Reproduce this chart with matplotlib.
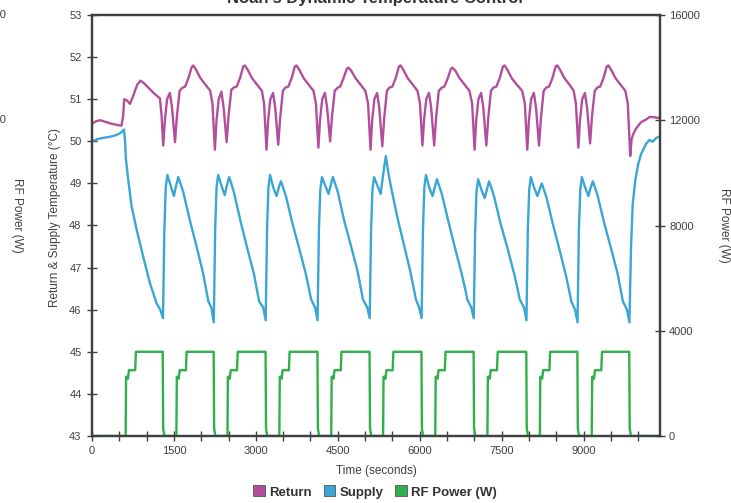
import matplotlib
matplotlib.use("Agg")
import matplotlib.pyplot as plt
from matplotlib.patches import Patch
from matplotlib.ticker import FixedLocator, FuncFormatter

plt.rcParams['font.family'] = ['Liberation Sans', 'DejaVu Sans']

# ---- data (time in seconds) ----
supply_t = [0, 100, 200, 300, 400, 500, 560, 585, 604, 622, 664, 726, 818, 938, 1061, 1183, 1250, 1300,
            1325, 1350, 1380, 1440, 1500, 1540, 1580, 1620, 1670, 1790, 1915, 2035, 2100, 2130, 2185, 2230,
            2255, 2280, 2310, 2370, 2430, 2470, 2510, 2550, 2600, 2720, 2845, 2965, 3030, 3060, 3135, 3180,
            3205, 3230, 3260, 3320, 3380, 3420, 3460, 3500, 3550, 3670, 3795, 3915, 3980, 4010, 4085, 4130,
            4155, 4180, 4210, 4270, 4330, 4370, 4410, 4450, 4500, 4620, 4745, 4865, 4930, 4960, 5040, 5085,
            5110, 5135, 5165, 5225, 5285, 5330, 5380, 5420, 5470, 5590, 5710, 5830, 5900, 5930, 5990, 6035,
            6060, 6085, 6115, 6175, 6235, 6275, 6315, 6355, 6405, 6525, 6650, 6770, 6840, 6870, 6945, 6990,
            7015, 7040, 7070, 7130, 7190, 7230, 7270, 7310, 7360, 7480, 7610, 7730, 7800, 7830, 7910, 7955,
            7980, 8005, 8035, 8095, 8155, 8195, 8235, 8275, 8325, 8445, 8565, 8680, 8745, 8775, 8845, 8890,
            8915, 8940, 8970, 9030, 9090, 9130, 9170, 9210, 9260, 9380, 9505, 9625, 9690, 9720, 9795, 9840,
            9870, 9900, 9950, 10000, 10054, 10150, 10206, 10267, 10330, 10400]
supply_c = [50.0, 50.05, 50.08, 50.1, 50.13, 50.18, 50.24, 50.28, 50.03, 49.56, 49.08, 48.45, 47.9, 47.26, 46.63, 46.15, 46.0, 45.8,
            47.9, 48.9, 49.2, 48.95, 48.7, 48.95, 49.15, 49.0, 48.8, 48.13, 47.5, 46.86, 46.4, 46.2, 46.05, 45.7,
            47.9, 48.9, 49.2, 48.95, 48.72, 48.95, 49.15, 49.0, 48.78, 48.1, 47.45, 46.85, 46.4, 46.2, 46.05, 45.75,
            47.9, 48.9, 49.2, 48.9, 48.7, 48.9, 49.05, 48.9, 48.7, 48.05, 47.45, 46.85, 46.45, 46.25, 46.05, 45.75,
            47.9, 48.85, 49.15, 48.95, 48.75, 48.95, 49.15, 49.0, 48.8, 48.1, 47.5, 46.9, 46.45, 46.25, 46.05, 45.8,
            47.9, 48.85, 49.15, 48.95, 48.75, 49.2, 49.65, 49.3, 48.95, 48.2, 47.55, 46.9, 46.45, 46.25, 46.05, 45.8,
            47.9, 48.9, 49.2, 48.9, 48.7, 48.9, 49.1, 48.95, 48.75, 48.1, 47.45, 46.85, 46.45, 46.25, 46.05, 45.8,
            47.85, 48.8, 49.1, 48.85, 48.65, 48.85, 49.05, 48.9, 48.7, 48.05, 47.45, 46.85, 46.45, 46.25, 46.05, 45.75,
            47.9, 48.85, 49.15, 48.9, 48.7, 48.85, 49.0, 48.85, 48.65, 48.0, 47.4, 46.8, 46.4, 46.2, 46.0, 45.7,
            47.9, 48.85, 49.15, 48.9, 48.7, 48.9, 49.05, 48.9, 48.7, 48.05, 47.45, 46.85, 46.4, 46.2, 46.0, 45.7,
            47.5, 48.5, 49.1, 49.45, 49.7, 49.95, 50.03, 49.99, 50.08, 50.12]

return_t = [0, 80, 150, 250, 350, 450, 540, 570, 590, 640, 695, 760, 830, 890, 950, 1050, 1150, 1244, 1275, 1304,
            1335, 1375, 1425, 1465, 1520, 1555, 1605, 1655, 1705, 1765, 1825, 1855, 1905, 1985, 2075, 2165, 2205, 2250,
            2280, 2320, 2370, 2410, 2465, 2500, 2550, 2600, 2650, 2710, 2770, 2800, 2850, 2930, 3020, 3110, 3150, 3195,
            3225, 3265, 3315, 3355, 3410, 3445, 3495, 3545, 3595, 3655, 3715, 3745, 3795, 3875, 3965, 4055, 4100, 4145,
            4175, 4215, 4265, 4305, 4360, 4395, 4445, 4495, 4545, 4605, 4665, 4695, 4745, 4825, 4915, 5005, 5055, 5100,
            5130, 5170, 5220, 5260, 5315, 5350, 5400, 5450, 5500, 5560, 5620, 5650, 5700, 5780, 5870, 5960, 6005, 6050,
            6080, 6120, 6170, 6210, 6265, 6300, 6350, 6400, 6450, 6510, 6570, 6600, 6650, 6730, 6820, 6910, 6960, 7005,
            7035, 7075, 7125, 7165, 7220, 7255, 7305, 7355, 7405, 7465, 7525, 7555, 7605, 7685, 7775, 7875, 7925, 7970,
            8000, 8040, 8090, 8130, 8185, 8220, 8270, 8320, 8370, 8430, 8490, 8520, 8570, 8650, 8740, 8820, 8860, 8905,
            8935, 8975, 9025, 9065, 9120, 9155, 9205, 9255, 9305, 9365, 9425, 9455, 9505, 9585, 9675, 9765, 9810, 9855,
            9880, 9910, 9960, 10050, 10150, 10210, 10300, 10400]
return_c = [50.42, 50.48, 50.5, 50.46, 50.42, 50.39, 50.37, 50.6, 51.0, 50.97, 50.89, 51.1, 51.35, 51.44, 51.38, 51.25, 51.12, 51.02, 50.6, 49.9,
            50.5, 51.0, 51.15, 50.8, 49.98, 50.6, 51.2, 51.27, 51.3, 51.5, 51.76, 51.8, 51.7, 51.5, 51.35, 51.2, 50.9, 49.8,
            50.5, 51.0, 51.18, 50.8, 49.98, 50.6, 51.22, 51.28, 51.3, 51.5, 51.78, 51.8, 51.7, 51.5, 51.35, 51.2, 50.9, 49.8,
            50.5, 51.0, 51.15, 50.8, 49.92, 50.55, 51.2, 51.28, 51.3, 51.5, 51.78, 51.8, 51.7, 51.5, 51.35, 51.2, 50.9, 49.85,
            50.5, 51.0, 51.15, 50.8, 50.0, 50.6, 51.2, 51.27, 51.3, 51.5, 51.72, 51.75, 51.68, 51.5, 51.35, 51.2, 50.9, 49.8,
            50.5, 51.0, 51.15, 50.8, 49.88, 50.55, 51.2, 51.28, 51.3, 51.5, 51.78, 51.8, 51.7, 51.5, 51.35, 51.2, 50.9, 49.9,
            50.5, 51.0, 51.15, 50.8, 49.9, 50.55, 51.2, 51.27, 51.3, 51.48, 51.72, 51.75, 51.68, 51.5, 51.35, 51.2, 50.9, 49.8,
            50.5, 51.0, 51.15, 50.8, 49.9, 50.55, 51.2, 51.28, 51.3, 51.5, 51.78, 51.8, 51.7, 51.5, 51.35, 51.2, 50.9, 49.8,
            50.5, 51.0, 51.15, 50.8, 49.9, 50.55, 51.2, 51.28, 51.3, 51.5, 51.78, 51.8, 51.7, 51.5, 51.35, 51.2, 50.9, 49.85,
            50.5, 51.0, 51.15, 50.8, 49.95, 50.6, 51.2, 51.28, 51.3, 51.5, 51.78, 51.8, 51.7, 51.5, 51.35, 51.2, 50.9, 49.65,
            50.05, 50.17, 50.3, 50.45, 50.52, 50.58, 50.57, 50.55]

rf_t = [0,
        616, 624, 646, 658, 676, 791, 804, 1295, 1303, 1325,
        1545, 1553, 1575, 1587, 1605, 1720, 1733, 2228, 2236, 2258,
        2480, 2488, 2510, 2522, 2540, 2655, 2668, 3178, 3186, 3208,
        3430, 3438, 3460, 3472, 3490, 3605, 3618, 4128, 4136, 4158,
        4380, 4388, 4410, 4422, 4440, 4555, 4568, 5082, 5090, 5112,
        5330, 5338, 5360, 5372, 5390, 5505, 5518, 6032, 6040, 6062,
        6285, 6293, 6315, 6327, 6345, 6460, 6473, 6987, 6995, 7017,
        7240, 7248, 7270, 7282, 7300, 7415, 7428, 7952, 7960, 7982,
        8200, 8208, 8230, 8242, 8260, 8375, 8388, 8887, 8895, 8917,
        9150, 9158, 9180, 9192, 9210, 9325, 9338, 9837, 9845, 9867,
        10400]
rf_w = [0,
        0, 2250, 2250, 2180, 2500, 2500, 3200, 3200, 300, 0,
        0, 2250, 2250, 2180, 2500, 2500, 3200, 3200, 300, 0,
        0, 2250, 2250, 2180, 2500, 2500, 3200, 3200, 300, 0,
        0, 2250, 2250, 2180, 2500, 2500, 3200, 3200, 300, 0,
        0, 2250, 2250, 2180, 2500, 2500, 3200, 3200, 300, 0,
        0, 2250, 2250, 2180, 2500, 2500, 3200, 3200, 300, 0,
        0, 2250, 2250, 2180, 2500, 2500, 3200, 3200, 300, 0,
        0, 2250, 2250, 2180, 2500, 2500, 3200, 3200, 300, 0,
        0, 2250, 2250, 2180, 2500, 2500, 3200, 3200, 300, 0,
        0, 2250, 2250, 2180, 2500, 2500, 3200, 3200, 300, 0,
        0]

x_ticks = list(range(0, 10001, 500))
temp_ticks = list(range(43, 54))
power_ticks = [0, 4000, 8000, 12000, 16000]

c_return = '#b24f9c'
c_supply = '#3aa6d6'
c_rf = '#2fb04a'
axis_col = '#404040'
text_col = '#404040'

fig = plt.figure(figsize=(7.31, 5.03), dpi=100)
ax = fig.add_axes([92 / 731, 1 - 436 / 503, (660 - 92) / 731, (436 - 15) / 503])
ax2 = ax.twinx()

ax.plot(return_t, return_c, color=c_return, lw=1.7, solid_joinstyle='round')
ax.plot(supply_t, supply_c, color=c_supply, lw=1.7, solid_joinstyle='round')
ax2.plot(rf_t, rf_w, color=c_rf, lw=1.7)

ax.set_xlim(0, 10400)
ax.set_ylim(43, 53)
ax2.set_ylim(0, 16000)

ax.xaxis.set_major_locator(FixedLocator(x_ticks))
ax.xaxis.set_major_formatter(FuncFormatter(lambda v, p: f"{int(v)}" if int(v) % 1500 == 0 else ""))
ax.set_yticks(temp_ticks)
ax2.set_yticks(power_ticks)

for a in (ax, ax2):
    for s in a.spines.values():
        s.set_color(axis_col)
        s.set_linewidth(1.6)
ax.tick_params(axis='both', direction='inout', length=7, width=1, color=axis_col,
               labelsize=8, labelcolor=text_col, pad=4)
ax2.tick_params(axis='y', direction='inout', length=7, width=1, color=axis_col,
                labelsize=8, labelcolor=text_col, pad=3)

ax.set_xlabel("Time (seconds)", fontsize=8.5, color=text_col, labelpad=6)
ax.set_ylabel("Return & Supply Temperature (\u00b0C)", fontsize=8.5, color=text_col)
ax.yaxis.set_label_coords(-0.055, 0.52)
ax2.set_ylabel("RF Power (W)", fontsize=8.5, color=text_col, rotation=270, labelpad=22)

# title cut off by the top edge, as in the source image
fig.text(0.513, 1 - 3 / 503, "Noah's Dynamic Temperature Control", ha='center', va='baseline',
         fontsize=12, fontweight='bold', color='#333333')

# remnants of a neighbouring axis at the left edge
for v, yp in zip([16000, 12000, 8000, 4000], [15, 120, 226, 331]):
    fig.text(-25 / 731, 1 - yp / 503, f"{v}", ha='left', va='center', fontsize=8, color=text_col)
fig.text(17 / 731, 1 - 215 / 503, "RF Power (W)", rotation=270, ha='center', va='center',
         fontsize=8.5, color=text_col)

handles = [Patch(facecolor=c_return, edgecolor='#555555', lw=0.6),
           Patch(facecolor=c_supply, edgecolor='#555555', lw=0.6),
           Patch(facecolor=c_rf, edgecolor='#555555', lw=0.6)]
leg = fig.legend(handles, ["Return", "Supply", "RF Power (W)"], loc='center',
                 bbox_to_anchor=(0.513, 1 - 492 / 503), ncol=3, frameon=False,
                 handlelength=0.9, handleheight=0.9, handletextpad=0.3, columnspacing=0.9,
                 prop={'size': 9.5, 'weight': 'bold'})
for t in leg.get_texts():
    t.set_color('#333333')

fig.savefig("out.png", dpi=100)
